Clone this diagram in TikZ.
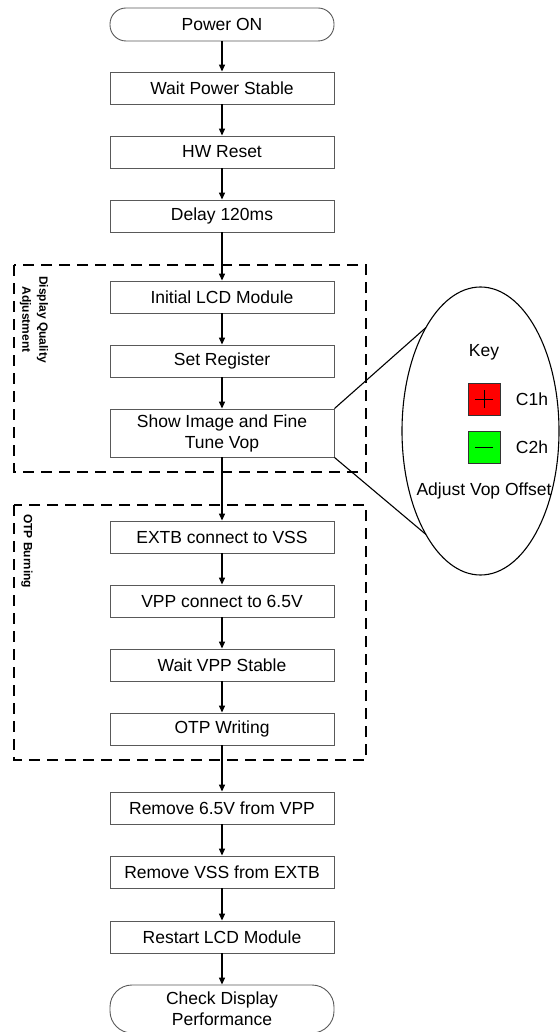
\documentclass[tikz,border=0pt]{standalone}
\usepackage{fontspec}
\setmainfont{Liberation Sans}
\usetikzlibrary{shapes.geometric,arrows.meta,calc}
\begin{document}
\begin{tikzpicture}[x=1pt,y=-1pt,
  every node/.style={font=\fontsize{17.5}{21}\selectfont},
  stepbox/.style={draw=black!65,line width=0.9pt,minimum width=224pt,minimum height=32pt,inner sep=0pt,align=center},
  termbox/.style={stepbox,rounded corners=16pt},
  flow/.style={line width=1.3pt,-{Triangle[length=7pt,width=6pt]}},
  group/.style={draw=black,line width=1.3pt,dash pattern=on 11pt off 7pt},
  side/.style={font=\fontsize{12}{17}\selectfont\bfseries,rotate=-90,align=center,inner sep=0pt},
  keysq/.style={draw=black!80,line width=1pt,minimum width=32pt,minimum height=32pt,inner sep=0pt}]
\useasboundingbox (0,0) rectangle (559,1032);

% groups
\draw[group] (14,265) rectangle (366,472);
\draw[group] (14,505) rectangle (366,760);
\node[side,anchor=west] (g1) at (34,276) {Display Quality\\Adjustment};
\node[side,anchor=west] (g2) at (27,514) {OTP Burning};

% steps
\node[termbox,minimum height=33pt] (s0) at (222,24.5) {Power ON};
\node[stepbox] (s1) at (222,88) {Wait Power Stable};
\node[stepbox] (s2) at (222,152) {HW Reset};
\node[stepbox] (s3) at (222,216) {Delay 120ms};
\node[stepbox] (s4) at (222,297) {Initial LCD Module};
\node[stepbox] (s5) at (222,361) {Set Register};
\node[stepbox,minimum height=48pt] (s6) at (222,433) {Show Image and Fine\\Tune Vop};
\node[stepbox] (s7) at (222,537) {EXTB connect to VSS};
\node[stepbox] (s8) at (222,601) {VPP connect to 6.5V};
\node[stepbox] (s9) at (222,665) {Wait VPP Stable};
\node[stepbox] (s10) at (222,729) {OTP Writing};
\node[stepbox] (s11) at (222,808) {Remove 6.5V from VPP};
\node[stepbox] (s12) at (222,872) {Remove VSS from EXTB};
\node[stepbox] (s13) at (222,937) {Restart LCD Module};
\node[termbox,minimum height=48pt,rounded corners=22pt] (s14) at (222,1009) {Check Display\\Performance};

\foreach \a/\b in {s0/s1,s1/s2,s2/s3,s3/s4,s4/s5,s5/s6,s6/s7,s7/s8,s8/s9,s9/s10,s10/s11,s11/s12,s12/s13,s13/s14}
  \draw[flow] (\a) -- (\b);

% key ellipse
\node[draw=black,line width=1.1pt,ellipse,minimum width=157pt,minimum height=288pt,inner sep=0pt] (ell) at (480.5,431) {};
\coordinate (e1) at (426,327.5);
\coordinate (e2) at (426,534.5);
\draw[line width=1.1pt] (s6.north east) -- (e1);
\draw[line width=1.1pt] (s6.south east) -- (e2);
\node (key) at (484,352) {Key};
\node[keysq,fill=red] (kp) at (484,399) {};
\node[keysq,fill=green] (km) at (484,447) {};
\draw[line width=0.8pt] ($(kp.center)+(-9,0)$) -- ++(18,0) ($(kp.center)+(0,-9)$) -- ++(0,18);
\draw[line width=0.8pt] ($(km.center)+(-9,0)$) -- ++(18,0);
\node (c1) at (532,399) {C1h};
\node (c2) at (532,447) {C2h};
\node (adj) at (484,491) {Adjust Vop Offset};
\end{tikzpicture}
\end{document}
